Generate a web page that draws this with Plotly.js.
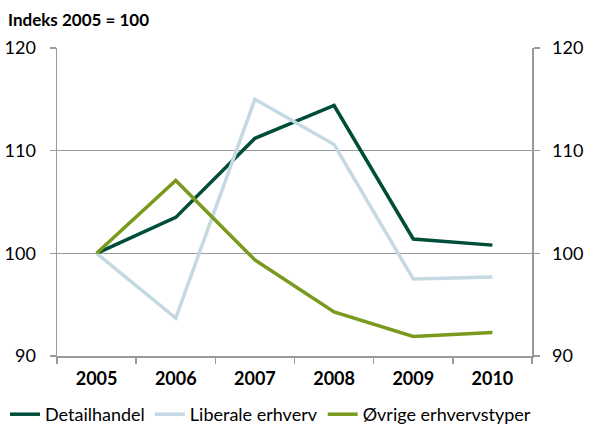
<!DOCTYPE html>
<html>
<head>
<meta charset="utf-8">
<script src="https://cdn.plot.ly/plotly-3.0.1.min.js"></script>
<style>html,body{margin:0;padding:0;background:#fff;}#chart{width:591px;height:427px;}</style>
</head>
<body>
<div id="chart"></div>
<script>
const years = ['2005','2006','2007','2008','2009','2010'];
const detailhandel = [100, 103.5, 111.2, 114.4, 101.4, 100.8];
const liberale = [100, 93.7, 115.0, 110.6, 97.5, 97.7];
const oevrige = [100, 107.1, 99.35, 94.3, 91.9, 92.3];
const seriesNames = ['Detailhandel', 'Liberale erhverv', 'Øvrige erhvervstyper'];
const yTicks = [90, 100, 110, 120];

const FONT = 'Lato, "Open Sans", sans-serif';
const GRID = '#9a9a9a';

const traces = [
  {x: years, y: detailhandel, name: seriesNames[0], type: 'scatter', mode: 'lines',
   line: {color: '#004d3a', width: 3.5}},
  {x: years, y: liberale, name: seriesNames[1], type: 'scatter', mode: 'lines',
   line: {color: '#c5d9e3', width: 3.5}},
  {x: years, y: oevrige, name: seriesNames[2], type: 'scatter', mode: 'lines',
   line: {color: '#7a9a1e', width: 3.5}},
  {x: years, y: detailhandel, yaxis: 'y2', type: 'scatter', mode: 'lines',
   line: {color: 'rgba(0,0,0,0)', width: 0}, showlegend: false, hoverinfo: 'skip'}
];

const layout = {
  width: 591, height: 427,
  margin: {l: 57, r: 59, t: 48, b: 71, autoexpand: false},
  paper_bgcolor: '#fff', plot_bgcolor: '#fff',
  font: {family: FONT, size: 18, color: '#000'},
  title: {text: '<b>Indeks 2005 = 100</b>', x: 8/591, xanchor: 'left', xref: 'container',
          y: 1 - 20/427, yanchor: 'middle', yref: 'container',
          font: {family: FONT, size: 17, color: '#000'}},
  xaxis: {type: 'category', range: [-0.5, 5.5], showgrid: false, zeroline: false,
          showline: true, linecolor: GRID, linewidth: 1.5,
          ticks: 'outside', tickson: 'boundaries', ticklen: 6, tickcolor: GRID, tickwidth: 1.5,
          ticklabelstandoff: 6,
          tickfont: {family: FONT, size: 18, color: '#000', weight: 'bold'}},
  yaxis: {range: [90, 120], tickvals: yTicks, showgrid: true, gridcolor: GRID, gridwidth: 1.5,
          zeroline: false, showline: true, linecolor: GRID, linewidth: 1.5,
          ticks: 'outside', ticklen: 6, tickcolor: GRID, tickwidth: 1.5,
          ticklabelstandoff: 10,
          tickfont: {family: FONT, size: 18, color: '#000'}},
  yaxis2: {range: [90, 120], tickvals: yTicks, overlaying: 'y', side: 'right', showgrid: false,
           zeroline: false, showline: true, linecolor: GRID, linewidth: 1.5,
           ticks: 'outside', ticklen: 6, tickcolor: GRID, tickwidth: 1.5,
           ticklabelstandoff: 9,
           tickfont: {family: FONT, size: 18, color: '#000'}},
  showlegend: true,
  legend: {orientation: 'h', x: (5 - 57)/475, xanchor: 'left',
           y: -(396 - 356)/308, yanchor: 'top',
           font: {family: FONT, size: 18, color: '#000'}, itemwidth: 30, tracegroupgap: 0,
           bgcolor: 'rgba(0,0,0,0)'},
  hovermode: false
};

Plotly.newPlot('chart', traces, layout, {staticPlot: true, displayModeBar: false});
</script>
</body>
</html>
